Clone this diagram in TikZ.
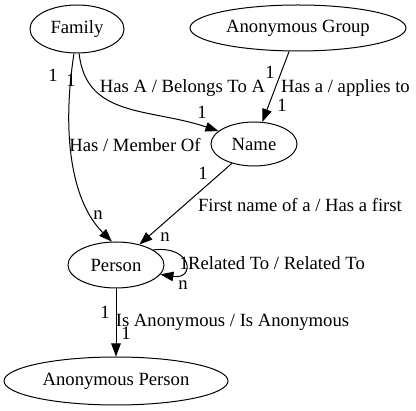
\documentclass[tikz,border=0pt]{standalone}
\usepackage{fontspec}
\setmainfont{Liberation Serif}
\usetikzlibrary{shapes.geometric,arrows.meta}
\begin{document}
\begin{tikzpicture}[x=1pt,y=-1pt,
  ent/.style={ellipse,draw,line width=1pt,inner sep=0pt,font=\fontsize{18.67}{22}\selectfont},
  lbl/.style={inner sep=0pt,font=\fontsize{18.67}{22}\selectfont},
  rel/.style={line width=1pt,-{Triangle[length=13pt,width=9.5pt]}}]
\useasboundingbox (0,0) rectangle (416,411);
\node[ent,minimum width=94pt,minimum height=48pt] (fam) at (77,29) {Family};
\node[ent,minimum width=216pt,minimum height=46pt] (ag) at (298,28) {Anonymous Group};
\node[ent,minimum width=86pt,minimum height=44pt] (name) at (254,144) {Name};
\node[ent,minimum width=96pt,minimum height=46pt] (person) at (116,265) {Person};
\node[ent,minimum width=224pt,minimum height=48pt] (ap) at (116,381) {Anonymous Person};
% edges
\draw[rel] (fam.-97) .. controls (62,130) and (70,200) .. (person.100);
\draw[rel] (fam.-85) .. controls (86,118) and (150,108) .. (name.160);
\draw[rel] (ag) -- (name);
\draw[rel] (name) -- (person);
\draw[rel] (person.22) .. controls (192,245) and (196,280) .. (person.-12);
\draw[rel] (person) -- (ap);
% labels
\node[lbl] (l1) at (53,75) {1};
\node[lbl] (l2) at (71,80) {1};
\node[lbl] (l3) at (182.5,88) {Has A / Belongs To A};
\node[lbl] (l4) at (202,112) {1};
\node[lbl] (l5) at (270,72) {1};
\node[lbl] (l6) at (345.5,88) {Has a / applies to};
\node[lbl] (l7) at (282,105) {1};
\node[lbl] (l8) at (135,145) {Has / Member Of};
\node[lbl] (l9) at (98,215) {n};
\node[lbl] (l10) at (203,173) {1};
\node[lbl] (l11) at (300,205) {First name of a / Has a first};
\node[lbl] (l12) at (165,237) {n};
\node[lbl] (l13) at (184,263) {1};
\node[lbl] (l14) at (276.5,263) {Related To / Related To};
\node[lbl] (l15) at (183,285) {n};
\node[lbl] (l16) at (105,312) {1};
\node[lbl] (l17) at (232.5,322) {Is Anonymous / Is Anonymous};
\node[lbl] (l18) at (126,333) {1};
\end{tikzpicture}
\end{document}
